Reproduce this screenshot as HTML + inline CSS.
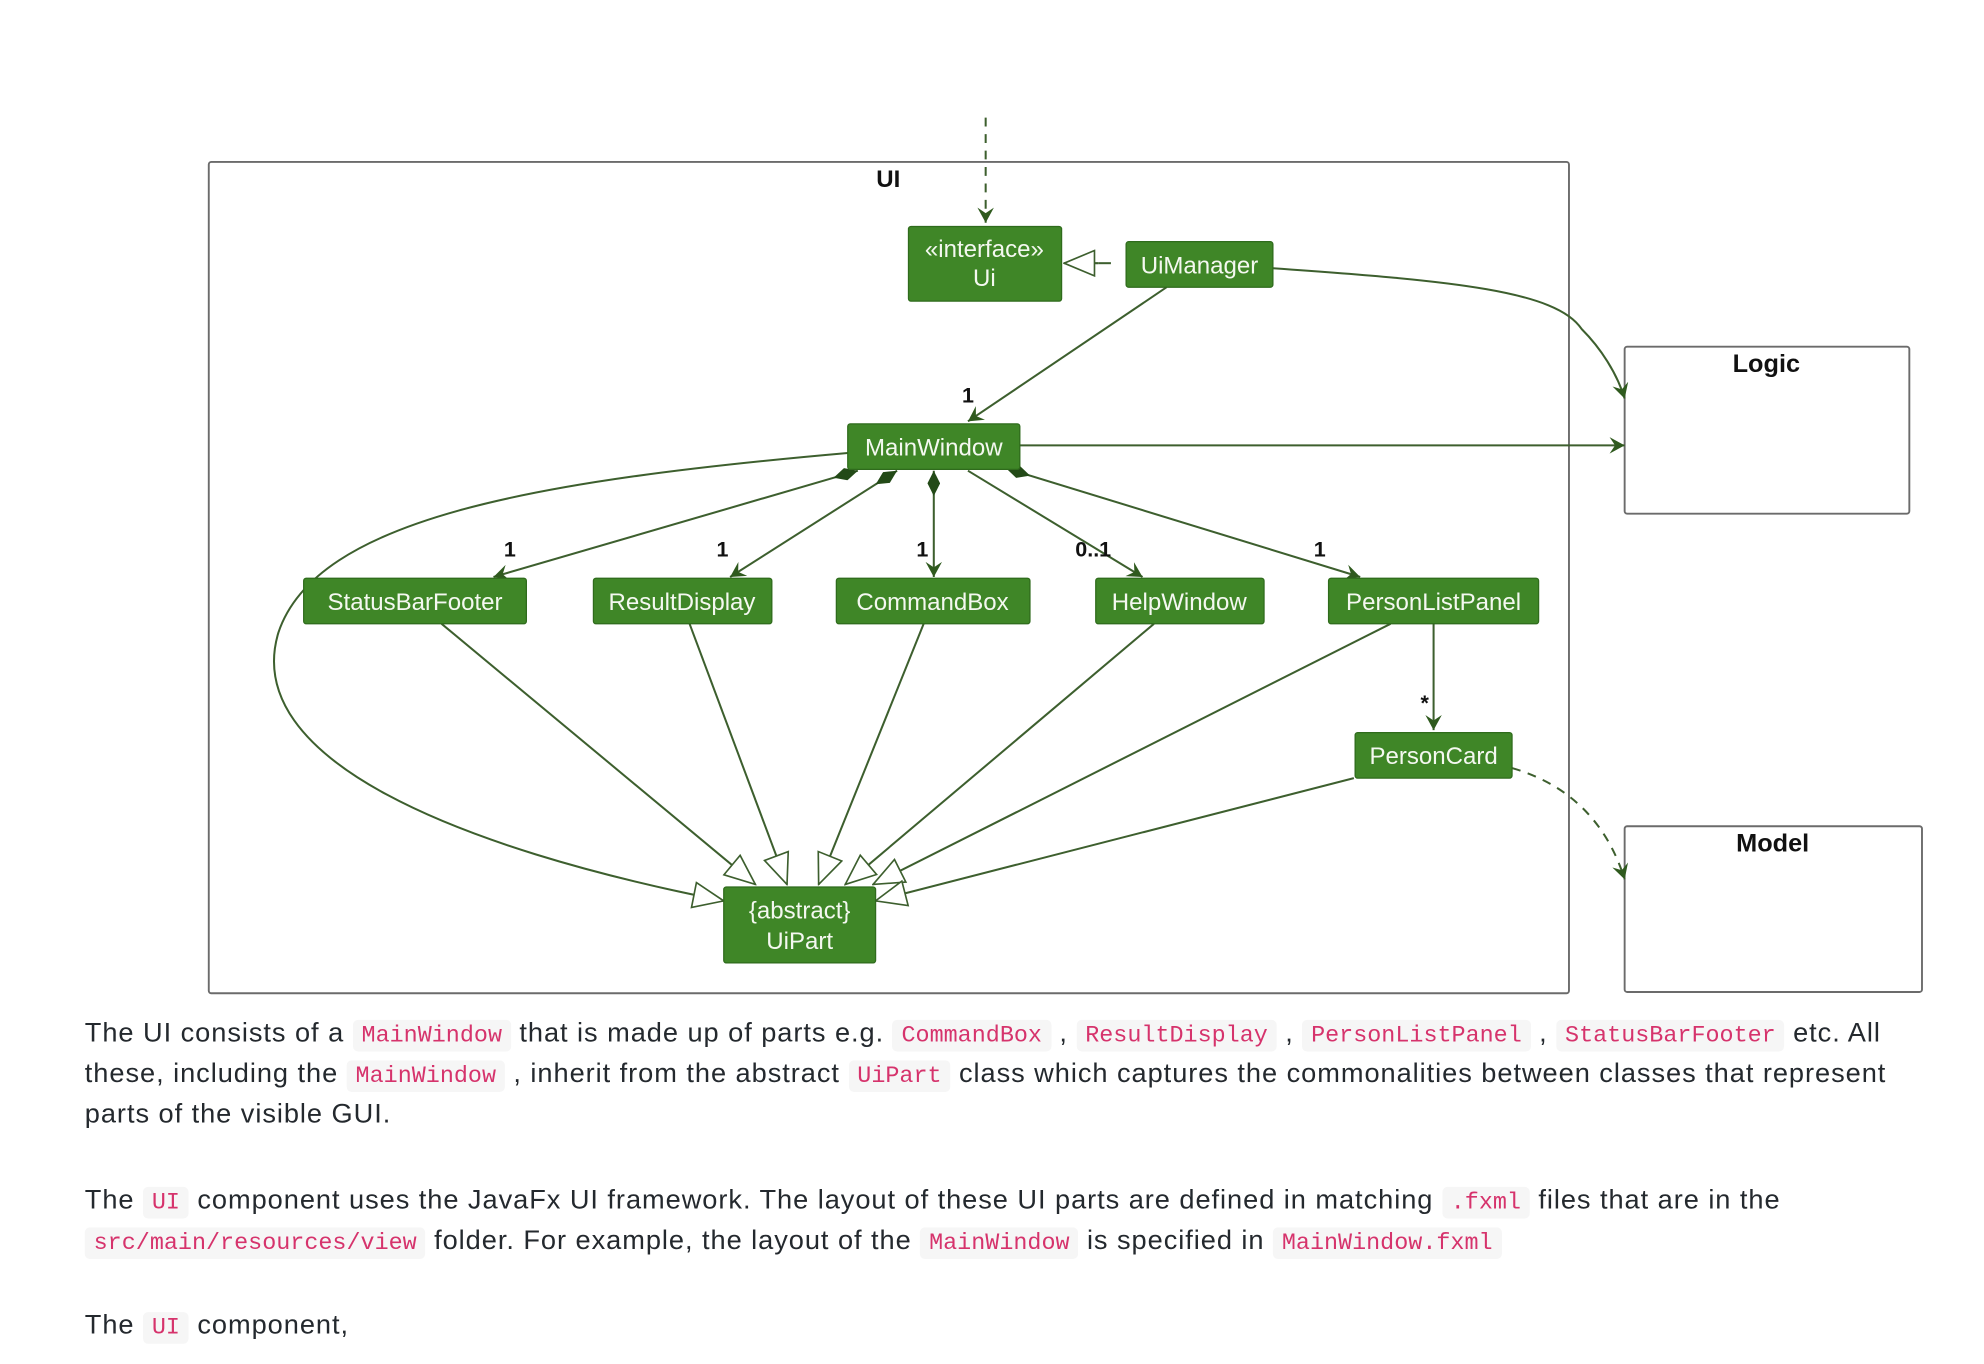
<!DOCTYPE html>
<html><head><meta charset="utf-8"><style>
html,body{margin:0;padding:0;background:#fff;width:1984px;height:1364px;overflow:hidden}
#w{position:absolute;left:0;top:0;width:1568px;height:1078px;transform:scale(1.2653);transform-origin:0 0}
.t{position:absolute;left:67px;white-space:nowrap;font-family:"Liberation Sans",sans-serif;font-size:21.5px;letter-spacing:0.75px;color:#24292e;line-height:32px}
code{font-family:"Liberation Mono",monospace;font-size:18.5px;letter-spacing:0;color:#d6336c;background:#f6f6f6;border-radius:4px;padding:2px 7px}
svg text{font-family:"Liberation Sans",sans-serif}
</style></head><body><div id="w">
<svg width="1568" height="800" viewBox="0 0 1568 800" style="position:absolute;left:0;top:0">
<defs>
<marker id="a" viewBox="0 0 12 12" refX="11" refY="6" markerWidth="13" markerHeight="13" markerUnits="userSpaceOnUse" orient="auto"><path d="M0,0 L11,6 L0,12 L4,6 Z" fill="#2f5a1e"/></marker>
<marker id="h" viewBox="0 0 26 22" refX="25" refY="11" markerWidth="26" markerHeight="22" markerUnits="userSpaceOnUse" orient="auto"><path d="M1,1 L25,11 L1,21 Z" fill="#fff" stroke="#3d5f2e" stroke-width="1.3"/></marker>
<marker id="d" viewBox="0 0 20 10" refX="0" refY="5" markerWidth="20" markerHeight="10" markerUnits="userSpaceOnUse" orient="auto"><path d="M0,5 L10,0 L20,5 L10,10 Z" fill="#234a17"/></marker>
</defs>
<g fill="none" stroke="#6b6b6b" stroke-width="1.5">
<rect x="165" y="128" width="1075" height="657" rx="2"/>
<rect x="1284" y="274" width="225" height="132" rx="2"/>
<rect x="1284" y="653" width="235" height="131" rx="2"/>
</g>
<text x="702" y="148" font-size="19" font-weight="bold" text-anchor="middle" fill="#111">UI</text>
<text x="1396" y="294" font-size="20" font-weight="bold" text-anchor="middle" fill="#111">Logic</text>
<text x="1401" y="673" font-size="20" font-weight="bold" text-anchor="middle" fill="#111">Model</text>
<g fill="none" stroke="#3d5f2e" stroke-width="1.6">
<path d="M779,93 L779,176" stroke-dasharray="7,6" marker-end="url(#a)"/>
<path d="M878,208 L868,208"/>
<path d="M868,208 L841,208" marker-end="url(#h)"/>
<path d="M1006,212 C1150,222 1230,230 1250,260 C1265,275 1278,295 1284,315" marker-end="url(#a)"/>
<path d="M922,227 L765,333" marker-end="url(#a)"/>
<path d="M806,352 L1284,352" marker-end="url(#a)"/>
<path d="M678,372 L390,456" marker-start="url(#d)" marker-end="url(#a)"/>
<path d="M709,372 L577,456" marker-start="url(#d)" marker-end="url(#a)"/>
<path d="M738,372 L738,456" marker-start="url(#d)" marker-end="url(#a)"/>
<path d="M765,372 L903,456" marker-end="url(#a)"/>
<path d="M795,370 L1075,456" marker-start="url(#d)" marker-end="url(#a)"/>
<path d="M1133,493 L1133,577" marker-end="url(#a)"/>
<path d="M1195,607 C1240,620 1270,650 1284,695" stroke-dasharray="7,6" marker-end="url(#a)"/>
<path d="M349,493 L597,699" marker-end="url(#h)"/>
<path d="M545,493 L622,699" marker-end="url(#h)"/>
<path d="M730,493 L647,699" marker-end="url(#h)"/>
<path d="M912,493 L668,699" marker-end="url(#h)"/>
<path d="M1099,493 L690,699" marker-end="url(#h)"/>
<path d="M1070,615 L692,712" marker-end="url(#h)"/>
<path d="M670,358 C420,380 250,410 220,500 C190,600 360,670 572,712" marker-end="url(#h)"/>
</g>
<g font-size="17" font-weight="bold" fill="#111" font-family="Liberation Serif">
<text x="765" y="318" text-anchor="middle">1</text>
<text x="403" y="440" text-anchor="middle">1</text>
<text x="571" y="440" text-anchor="middle">1</text>
<text x="729" y="440" text-anchor="middle">1</text>
<text x="864" y="440" text-anchor="middle">0..1</text>
<text x="1043" y="440" text-anchor="middle">1</text>
<text x="1126" y="561" text-anchor="middle">*</text>
</g>
<g fill="#3f8627" stroke="#2f6b1c" stroke-width="1">
<rect x="718" y="179" width="121" height="59" rx="2"/>
<rect x="890" y="191" width="116" height="36" rx="2"/>
<rect x="670" y="335" width="136" height="36" rx="2"/>
<rect x="240" y="457" width="176" height="36" rx="2"/>
<rect x="469" y="457" width="141" height="36" rx="2"/>
<rect x="661" y="457" width="153" height="36" rx="2"/>
<rect x="866" y="457" width="133" height="36" rx="2"/>
<rect x="1050" y="457" width="166" height="36" rx="2"/>
<rect x="1071" y="579" width="124" height="36" rx="2"/>
<rect x="572" y="701" width="120" height="60" rx="2"/>
</g>
<g fill="#f4f8f0" font-size="19" text-anchor="middle">
<text x="778" y="203">«interface»</text>
<text x="778" y="226">Ui</text>
<text x="948" y="216">UiManager</text>
<text x="738" y="360">MainWindow</text>
<text x="328" y="482">StatusBarFooter</text>
<text x="539" y="482">ResultDisplay</text>
<text x="737" y="482">CommandBox</text>
<text x="932" y="482">HelpWindow</text>
<text x="1133" y="482">PersonListPanel</text>
<text x="1133" y="604">PersonCard</text>
<text x="632" y="726">{abstract}</text>
<text x="632" y="750">UiPart</text>
</g>
</svg>
<div class="t" style="top:800px">The UI consists of a <code>MainWindow</code> that is made up of parts e.g. <code>CommandBox</code> , <code>ResultDisplay</code> , <code>PersonListPanel</code> , <code>StatusBarFooter</code> etc. All</div>
<div class="t" style="top:832px">these, including the <code>MainWindow</code> , inherit from the abstract <code>UiPart</code> class which captures the commonalities between classes that represent</div>
<div class="t" style="top:864px">parts of the visible GUI.</div>
<div class="t" style="top:932px">The <code>UI</code> component uses the JavaFx UI framework. The layout of these UI parts are defined in matching <code>.fxml</code> files that are in the</div>
<div class="t" style="top:964px"><code>src/main/resources/view</code> folder. For example, the layout of the <code>MainWindow</code> is specified in <code>MainWindow.fxml</code></div>
<div class="t" style="top:1031px">The <code>UI</code> component,</div>
</div></body></html>
